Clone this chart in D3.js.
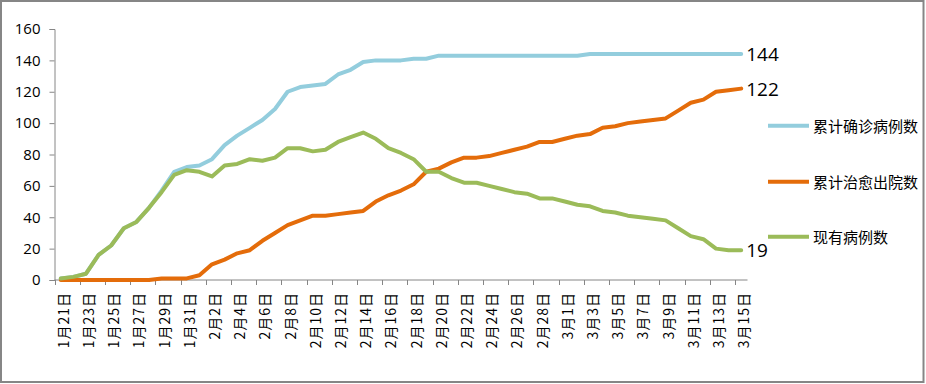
<!DOCTYPE html>
<html>
<head>
<meta charset="utf-8">
<script src="https://cdn.jsdelivr.net/npm/d3@7"></script>
<style>
  body { margin: 0; background: #fff; }
  svg { display: block; font-family: "Open Sans", "Noto Sans CJK SC", sans-serif; }
</style>
</head>
<body>
<svg id="chart"></svg>
<script>
// dates, 1/21 .. 3/15 (2020)
var dates = [];
[[1, 21, 31], [2, 1, 29], [3, 1, 15]].forEach(function (m) {
    for (var d = m[1]; d <= m[2]; d++) dates.push(m[0] + "月" + d + "日");
});

var confirmed = [1, 2, 4, 16, 22, 33, 37, 46, 57, 69, 72, 73, 77, 86, 92, 97, 102, 109, 120, 123,
    124, 125, 131, 134, 139, 140, 140, 140, 141, 141, 143, 143, 143, 143, 143, 143, 143, 143, 143, 143,
    143, 143, 144, 144, 144, 144, 144, 144, 144, 144, 144, 144, 144, 144, 144];
var cured = [0, 0, 0, 0, 0, 0, 0, 0, 1, 1, 1, 3, 10, 13, 17, 19, 25, 30, 35, 38,
    41, 41, 42, 43, 44, 50, 54, 57, 61, 69, 71, 75, 78, 78, 79, 81, 83, 85, 88, 88,
    90, 92, 93, 97, 98, 100, 101, 102, 103, 108, 113, 115, 120, 121, 122];
var current = [1, 2, 4, 16, 22, 33, 37, 46, 56, 67, 70, 69, 66, 73, 74, 77, 76, 78, 84, 84,
    82, 83, 88, 91, 94, 90, 84, 81, 77, 69, 69, 65, 62, 62, 60, 58, 56, 55, 52, 52,
    50, 48, 47, 44, 43, 41, 40, 39, 38, 33, 28, 26, 20, 19, 19];

var seriesNames = ["累计确诊病例数", "累计治愈出院数", "现有病例数"];
var seriesColors = ["#93CDDD", "#E46C0A", "#9BBB59"];
var yTicks = [0, 20, 40, 60, 80, 100, 120, 140, 160];

var W = 926, H = 384;
var svg = d3.select("#chart").attr("width", W).attr("height", H);

// outer border
svg.append("rect")
   .attr("x", 1).attr("y", 1)
   .attr("width", W - 3.5).attr("height", H - 3)
   .attr("fill", "#fff")
   .attr("stroke", "#868686")
   .attr("stroke-width", 2);

var x = d3.scaleBand().domain(dates).range([54.5, 747.5]).padding(0);
var y = d3.scaleLinear().domain([0, 160]).range([280, 29]);
var cx = function (d) { return x(d) + x.bandwidth() / 2; };

// y axis
var yAxis = svg.append("g")
    .attr("transform", "translate(54.5,0)")
    .call(d3.axisLeft(y).tickValues(yTicks).tickSize(5).tickPadding(9).tickFormat(d3.format("d")));
yAxis.select(".domain").attr("stroke", "#868686");
yAxis.selectAll(".tick line").attr("stroke", "#868686");
yAxis.selectAll(".tick text")
     .style("font-size", "15px")
     .attr("fill", "#000")
     .style("font-family", "'Open Sans', sans-serif");

// x axis: ticks between categories, every 2nd
var xg = svg.append("g").attr("transform", "translate(0,280)");
xg.append("line")
  .attr("x1", 54.5).attr("x2", 747.5)
  .attr("stroke", "#868686");
var labelDates = dates.filter(function (d, i) { return i % 2 === 0; });
xg.selectAll("line.tk").data(labelDates).enter().append("line")
  .attr("class", "tk")
  .attr("x1", function (d) { return Math.round(x(d)) + 0.5; })
  .attr("x2", function (d) { return Math.round(x(d)) + 0.5; })
  .attr("y1", 0).attr("y2", 5)
  .attr("stroke", "#868686");
xg.selectAll("text").data(labelDates).enter().append("text")
  .attr("transform", function (d) { return "translate(" + (cx(d) + 2) + ",12) rotate(-90)"; })
  .attr("text-anchor", "end")
  .attr("dominant-baseline", "central")
  .style("font-size", "14px")
  .style("letter-spacing", "1px")
  .style("font-family", "'Noto Sans CJK SC', sans-serif")
  .attr("fill", "#000")
  .text(function (d) { return d; });

// lines
var allSeries = [confirmed, cured, current];
var line = d3.line()
    .x(function (d, i) { return cx(dates[i]); })
    .y(function (d) { return y(d); });

allSeries.forEach(function (s, k) {
    svg.append("path")
       .datum(s)
       .attr("d", line)
       .attr("fill", "none")
       .attr("stroke", seriesColors[k])
       .attr("stroke-width", 4)
       .attr("stroke-linejoin", "round")
       .attr("stroke-linecap", "round");
    // end value label
    var last = s[s.length - 1];
    svg.append("text")
       .attr("x", cx(dates[dates.length - 1]) + 5)
       .attr("y", y(last))
       .attr("dominant-baseline", "central")
       .style("font-size", "19px")
       .attr("fill", "#000")
       .text(last);
});

// legend
var legendY = [125.7, 181.7, 236.7];
seriesNames.forEach(function (name, k) {
    svg.append("line")
       .attr("x1", 768).attr("x2", 809)
       .attr("y1", legendY[k]).attr("y2", legendY[k])
       .attr("stroke", seriesColors[k])
       .attr("stroke-width", 4);
    svg.append("text")
       .attr("x", 813)
       .attr("y", legendY[k])
       .attr("dominant-baseline", "central")
       .style("font-size", "15px")
       .style("font-family", "'Noto Sans CJK SC', sans-serif")
       .attr("fill", "#000")
       .text(name);
});
</script>
</body>
</html>
